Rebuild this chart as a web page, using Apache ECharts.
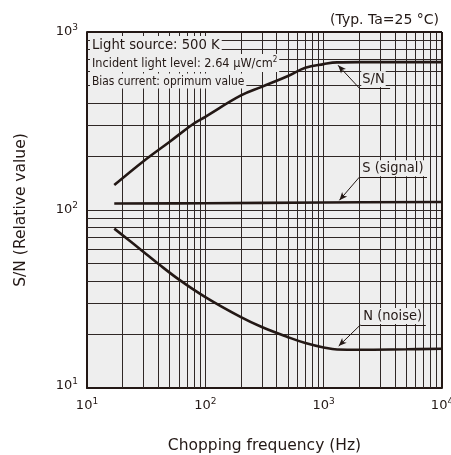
<!DOCTYPE html>
<html><head><meta charset="utf-8">
<script src="https://cdn.jsdelivr.net/npm/echarts@6/dist/echarts.min.js"></script>
<style>html,body{margin:0;padding:0;background:#fff}#c{width:451px;height:455px}</style>
</head><body><div id="c"></div>
<script>
// ---- data ----
const snData = [[17,138],[30,188],[50,242],[80,306],[100,334],[200,440],[300,492],[500,566],[700,630],[1000,660],[1300,675],[2000,677],[5000,677],[10000,677]];
const sData = [[17,108.7],[100,109.2],[1000,110.2],[10000,110.9]];
const nData = [[17,78.6],[29,59.3],[40,49.9],[60,40.6],[100,32.4],[200,25],[300,22],[500,19.3],[700,17.9],[1000,16.9],[1300,16.45],[2000,16.4],[5000,16.5],[10000,16.6]];
const xMinor = [20,30,40,50,60,70,80,90,200,300,400,500,600,700,800,900,2000,3000,4000,5000,6000,7000,8000,9000];
const yMinor = [20,30,40,50,60,70,80,90,200,300,400,500,600,700,800,900];
const conditionTexts = [
  [10.6, 845, 'Light source: 500 K'],
  [10.6, 669, 'Incident light level: 2.64 μW/cm{sup|2}'],
  [10.6, 530, 'Bias current: oprimum value']
];
const conditionSizes = [14.7, 12.6, 11.9];
// label: [underlineStartX, underlineY, underlineEndX, arrowTipX, arrowTipY, text]
const curveLabels = [
  [2000, 484, 3640, 1324, 650, 'S/N'],
  [2000, 152.8, 7470, 1359, 113.4, 'S (signal)'],
  [2040, 22.6, 7300, 1340, 17.2, 'N (noise)']
];
const xTitle = 'Chopping frequency (Hz)';
const yTitle = 'S/N (Relative value)';
const noteText = '(Typ. Ta=25 °C)';

const INK = '#231815';
const GRID = '#2f2725';
const FONT = 'DejaVu Sans';
const CFONT = "'DejaVu Sans Condensed', 'DejaVu Sans'";

function powLabel(v, shiftUp) {
  const e = Math.round(Math.log10(v));
  return shiftUp ? '{bu|10}{su|' + e + '}' : '{b|10}{s|' + e + '}';
}
const richPow = {
  b: {fontFamily: FONT, fontSize: 13, color: INK},
  s: {fontFamily: FONT, fontSize: 9, color: INK, padding: [0,0,8,0]},
  bu: {fontFamily: FONT, fontSize: 13, color: INK, padding: [0,0,5,0]},
  su: {fontFamily: FONT, fontSize: 9, color: INK, padding: [0,0,13,0]}
};

const chart = echarts.init(document.getElementById('c'));

const minorLines = xMinor.map(v => ({xAxis: v})).concat(yMinor.map(v => ({yAxis: v})));

const annoLines = [];
curveLabels.forEach(c => {
  annoLines.push([{coord: [c[0], c[1]], symbol: 'none'}, {coord: [c[2], c[1]], symbol: 'none'}]);
  annoLines.push([{coord: [c[0], c[1]], symbol: 'none'}, {coord: [c[3], c[4]], symbol: 'arrow', symbolSize: [5, 8]}]);
});

chart.setOption({
  animation: false,
  backgroundColor: '#ffffff',
  title: {
    text: noteText, right: 7, top: 8,
    textStyle: {fontFamily: FONT, fontSize: 14, fontWeight: 'normal', color: INK}
  },
  grid: {left: 87, right: 9, top: 32, bottom: 67, outerBoundsMode: 'none', containLabel: false,
    show: true, backgroundColor: '#eeeeee', borderColor: INK, borderWidth: 0},
  xAxis: {
    type: 'log', logBase: 10, min: 10, max: 10000,
    name: xTitle, nameLocation: 'middle', nameGap: 50,
    nameTextStyle: {fontFamily: FONT, fontSize: 15.5, color: INK},
    axisLine: {show: true, onZero: false, lineStyle: {color: INK, width: 2}},
    axisTick: {show: false},
    axisLabel: {margin: 9, formatter: v => powLabel(v, false), rich: richPow},
    splitLine: {show: true, lineStyle: {color: GRID, width: 1}}
  },
  yAxis: {
    type: 'log', logBase: 10, min: 10, max: 1000,
    name: yTitle, nameLocation: 'middle', nameGap: 58,
    nameTextStyle: {fontFamily: FONT, fontSize: 15.5, color: INK},
    axisLine: {show: true, onZero: false, lineStyle: {color: INK, width: 2}},
    axisTick: {show: false},
    axisLabel: {margin: 9, formatter: v => powLabel(v, Math.round(v) === 10), rich: richPow},
    splitLine: {show: true, lineStyle: {color: GRID, width: 1}}
  },
  series: [
    {
      type: 'line', data: [], silent: true, z: 1,
      markLine: {z: 1, silent: true, symbol: ['none','none'], label: {show: false}, animation: false,
        lineStyle: {color: GRID, width: 1, type: 'solid'}, data: minorLines}
    },
    {
      type: 'line', data: [[10,1000],[10000,1000]], silent: true, z: 6, symbol: 'none',
      lineStyle: {color: INK, width: 2}
    },
    {
      type: 'line', data: [[10000,10],[10000,1000]], silent: true, z: 6, symbol: 'none',
      lineStyle: {color: INK, width: 2}
    },
    {type: 'line', name: 'S/N', data: snData, smooth: 0.4, symbol: 'none', z: 3, lineStyle: {color: INK, width: 2.6}},
    {type: 'line', name: 'S', data: sData, smooth: 0.4, symbol: 'none', z: 3, lineStyle: {color: INK, width: 2.6}},
    {type: 'line', name: 'N', data: nData, smooth: 0.4, symbol: 'none', z: 3, lineStyle: {color: INK, width: 2.6}},
    {
      type: 'scatter', symbolSize: 0, z: 4, silent: true, itemStyle: {opacity: 1},
      data: conditionTexts.map((t, i) => ({value: [t[0], t[1]], label: {formatter: t[2], fontSize: conditionSizes[i]}})),
      label: {show: true, position: [0, 0], align: 'left', verticalAlign: 'middle',
        fontFamily: CFONT, fontSize: 13, color: INK, backgroundColor: '#eeeeee', padding: [2, 2, 1, 2],
        rich: {sup: {fontFamily: CFONT, fontSize: 8, color: INK, padding: [0,0,7,0]}}}
    },
    {
      type: 'scatter', symbolSize: 0, z: 4, silent: true, itemStyle: {opacity: 1},
      data: curveLabels.map(c => ({value: [c[0], c[1]], label: {formatter: c[5]}})),
      label: {show: true, position: [2, -1], align: 'left', verticalAlign: 'bottom',
        fontFamily: CFONT, fontSize: 14.5, color: INK, backgroundColor: '#eeeeee', padding: [1, 1, 0, 1]},
      markLine: {z: 5, silent: true, label: {show: false}, animation: false, symbol: ['none','none'],
        lineStyle: {color: INK, width: 1, type: 'solid'}, data: annoLines}
    }
  ]
});
</script></body></html>
